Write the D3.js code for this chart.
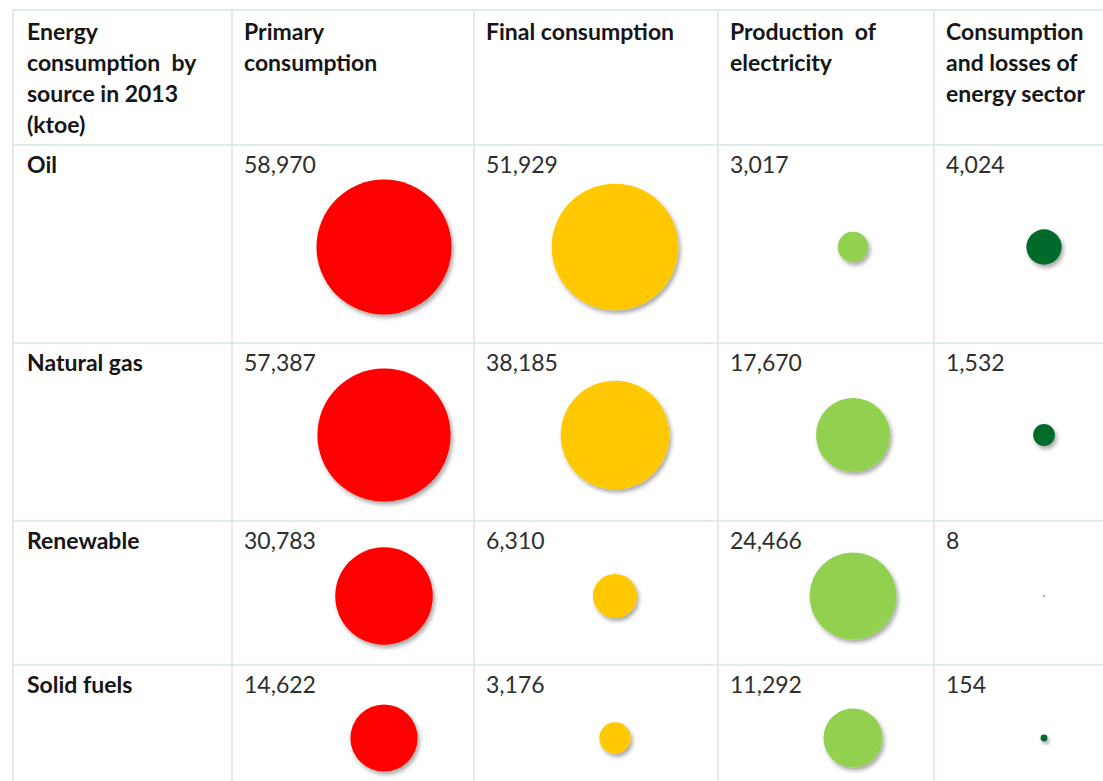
<!DOCTYPE html>
<html>
<head>
<meta charset="utf-8">
<script src="https://cdn.jsdelivr.net/npm/d3@7"></script>
<style>
  body { margin: 0; background: #fff; }
  svg { display: block; }
</style>
</head>
<body>
<div id="chart"></div>
<script>
// data
const sources = ['Oil', 'Natural gas', 'Renewable', 'Solid fuels'];
const measures = ['Primary consumption', 'Final consumption', 'Production of electricity', 'Consumption and losses of energy sector'];
const primary = [58970, 57387, 30783, 14622];
const finalCons = [51929, 38185, 6310, 3176];
const electricity = [3017, 17670, 24466, 11292];
const sectorLosses = [4024, 1532, 8, 154];
const headerTitle = ['Energy', 'consumption  by', 'source in 2013', '(ktoe)'];
const headerLines = [
    ['Primary', 'consumption'],
    ['Final consumption'],
    ['Production  of', 'electricity'],
    ['Consumption', 'and losses of', 'energy sector']
];

const series = [primary, finalCons, electricity, sectorLosses];
const colors = ['#ff0000', '#ffc800', '#92d050', '#006a2c'];

const width = 1103, height = 781;

// table layout
const colEdges = [13, 232, 474, 718, 934, 1110];
const rowEdges = [10, 145, 343, 521, 665, 805];
const circleCx = [384, 615, 853, 1044];

const svg = d3.select('#chart').append('svg')
    .attr('width', width)
    .attr('height', height);

const defs = svg.append('defs');
const f = defs.append('filter')
    .attr('id', 'shadow')
    .attr('x', '-50%').attr('y', '-50%')
    .attr('width', '200%').attr('height', '200%');
f.append('feDropShadow')
    .attr('dx', 2).attr('dy', 3)
    .attr('stdDeviation', 2.2)
    .attr('flood-color', '#000')
    .attr('flood-opacity', 0.35);

// radius: area proportional to value
const maxVal = d3.max(series.flat());
const r = d3.scaleSqrt().domain([0, maxVal]).range([0, 67.5]);

const fmt = d3.format(',');
const font = "Lato, 'Open Sans', sans-serif";
const fs = 23;

// grid
const grid = svg.append('g').attr('stroke', '#d6e4e9').attr('stroke-width', 1.5);
grid.selectAll('line.v').data(colEdges.slice(0, 5)).join('line')
    .attr('x1', d => d).attr('x2', d => d)
    .attr('y1', rowEdges[0]).attr('y2', height);
grid.selectAll('line.h').data(rowEdges.slice(0, 5)).join('line')
    .attr('x1', colEdges[0]).attr('x2', width)
    .attr('y1', d => d).attr('y2', d => d);

// header
const header = svg.append('g')
    .attr('font-family', font)
    .attr('font-weight', 'bold')
    .attr('font-size', fs)
    .attr('fill', '#161616');

header.append('text')
    .attr('x', colEdges[0] + 14)
    .attr('y', 40)
    .attr('xml:space', 'preserve')
    .selectAll('tspan').data(headerTitle).join('tspan')
    .attr('x', colEdges[0] + 14)
    .attr('dy', (d, i) => i ? 31 : 0)
    .text(d => d);

header.selectAll('text.h').data(headerLines).join('text')
    .attr('class', 'h')
    .attr('xml:space', 'preserve')
    .attr('y', 40)
    .each(function (lines, j) {
        d3.select(this).selectAll('tspan').data(lines).join('tspan')
            .attr('x', colEdges[j + 1] + 12)
            .attr('dy', (d, i) => i ? 31 : 0)
            .text(d => d);
    });

// row labels
svg.append('g')
    .attr('font-family', font)
    .attr('font-weight', 'bold')
    .attr('font-size', fs)
    .attr('fill', '#161616')
    .selectAll('text').data(sources).join('text')
    .attr('x', colEdges[0] + 14)
    .attr('y', (d, i) => rowEdges[i + 1] + 28)
    .text(d => d);

// cells
sources.forEach((s, i) => {
    const rowTop = rowEdges[i + 1];
    const cy = (rowEdges[i + 1] + rowEdges[i + 2]) / 2 + 3;
    const g = svg.append('g');

    g.selectAll('circle').data(series.map(a => a[i])).join('circle')
        .attr('cx', (d, j) => circleCx[j])
        .attr('cy', cy)
        .attr('r', d => r(d))
        .attr('fill', (d, j) => colors[j])
        .attr('filter', 'url(#shadow)');

    g.selectAll('text').data(series.map(a => a[i])).join('text')
        .attr('x', (d, j) => colEdges[j + 1] + 12)
        .attr('y', rowTop + 28)
        .attr('font-family', font)
        .attr('font-size', fs)
        .attr('fill', '#2e2e2e')
        .text(d => fmt(d));
});
</script>
</body>
</html>
